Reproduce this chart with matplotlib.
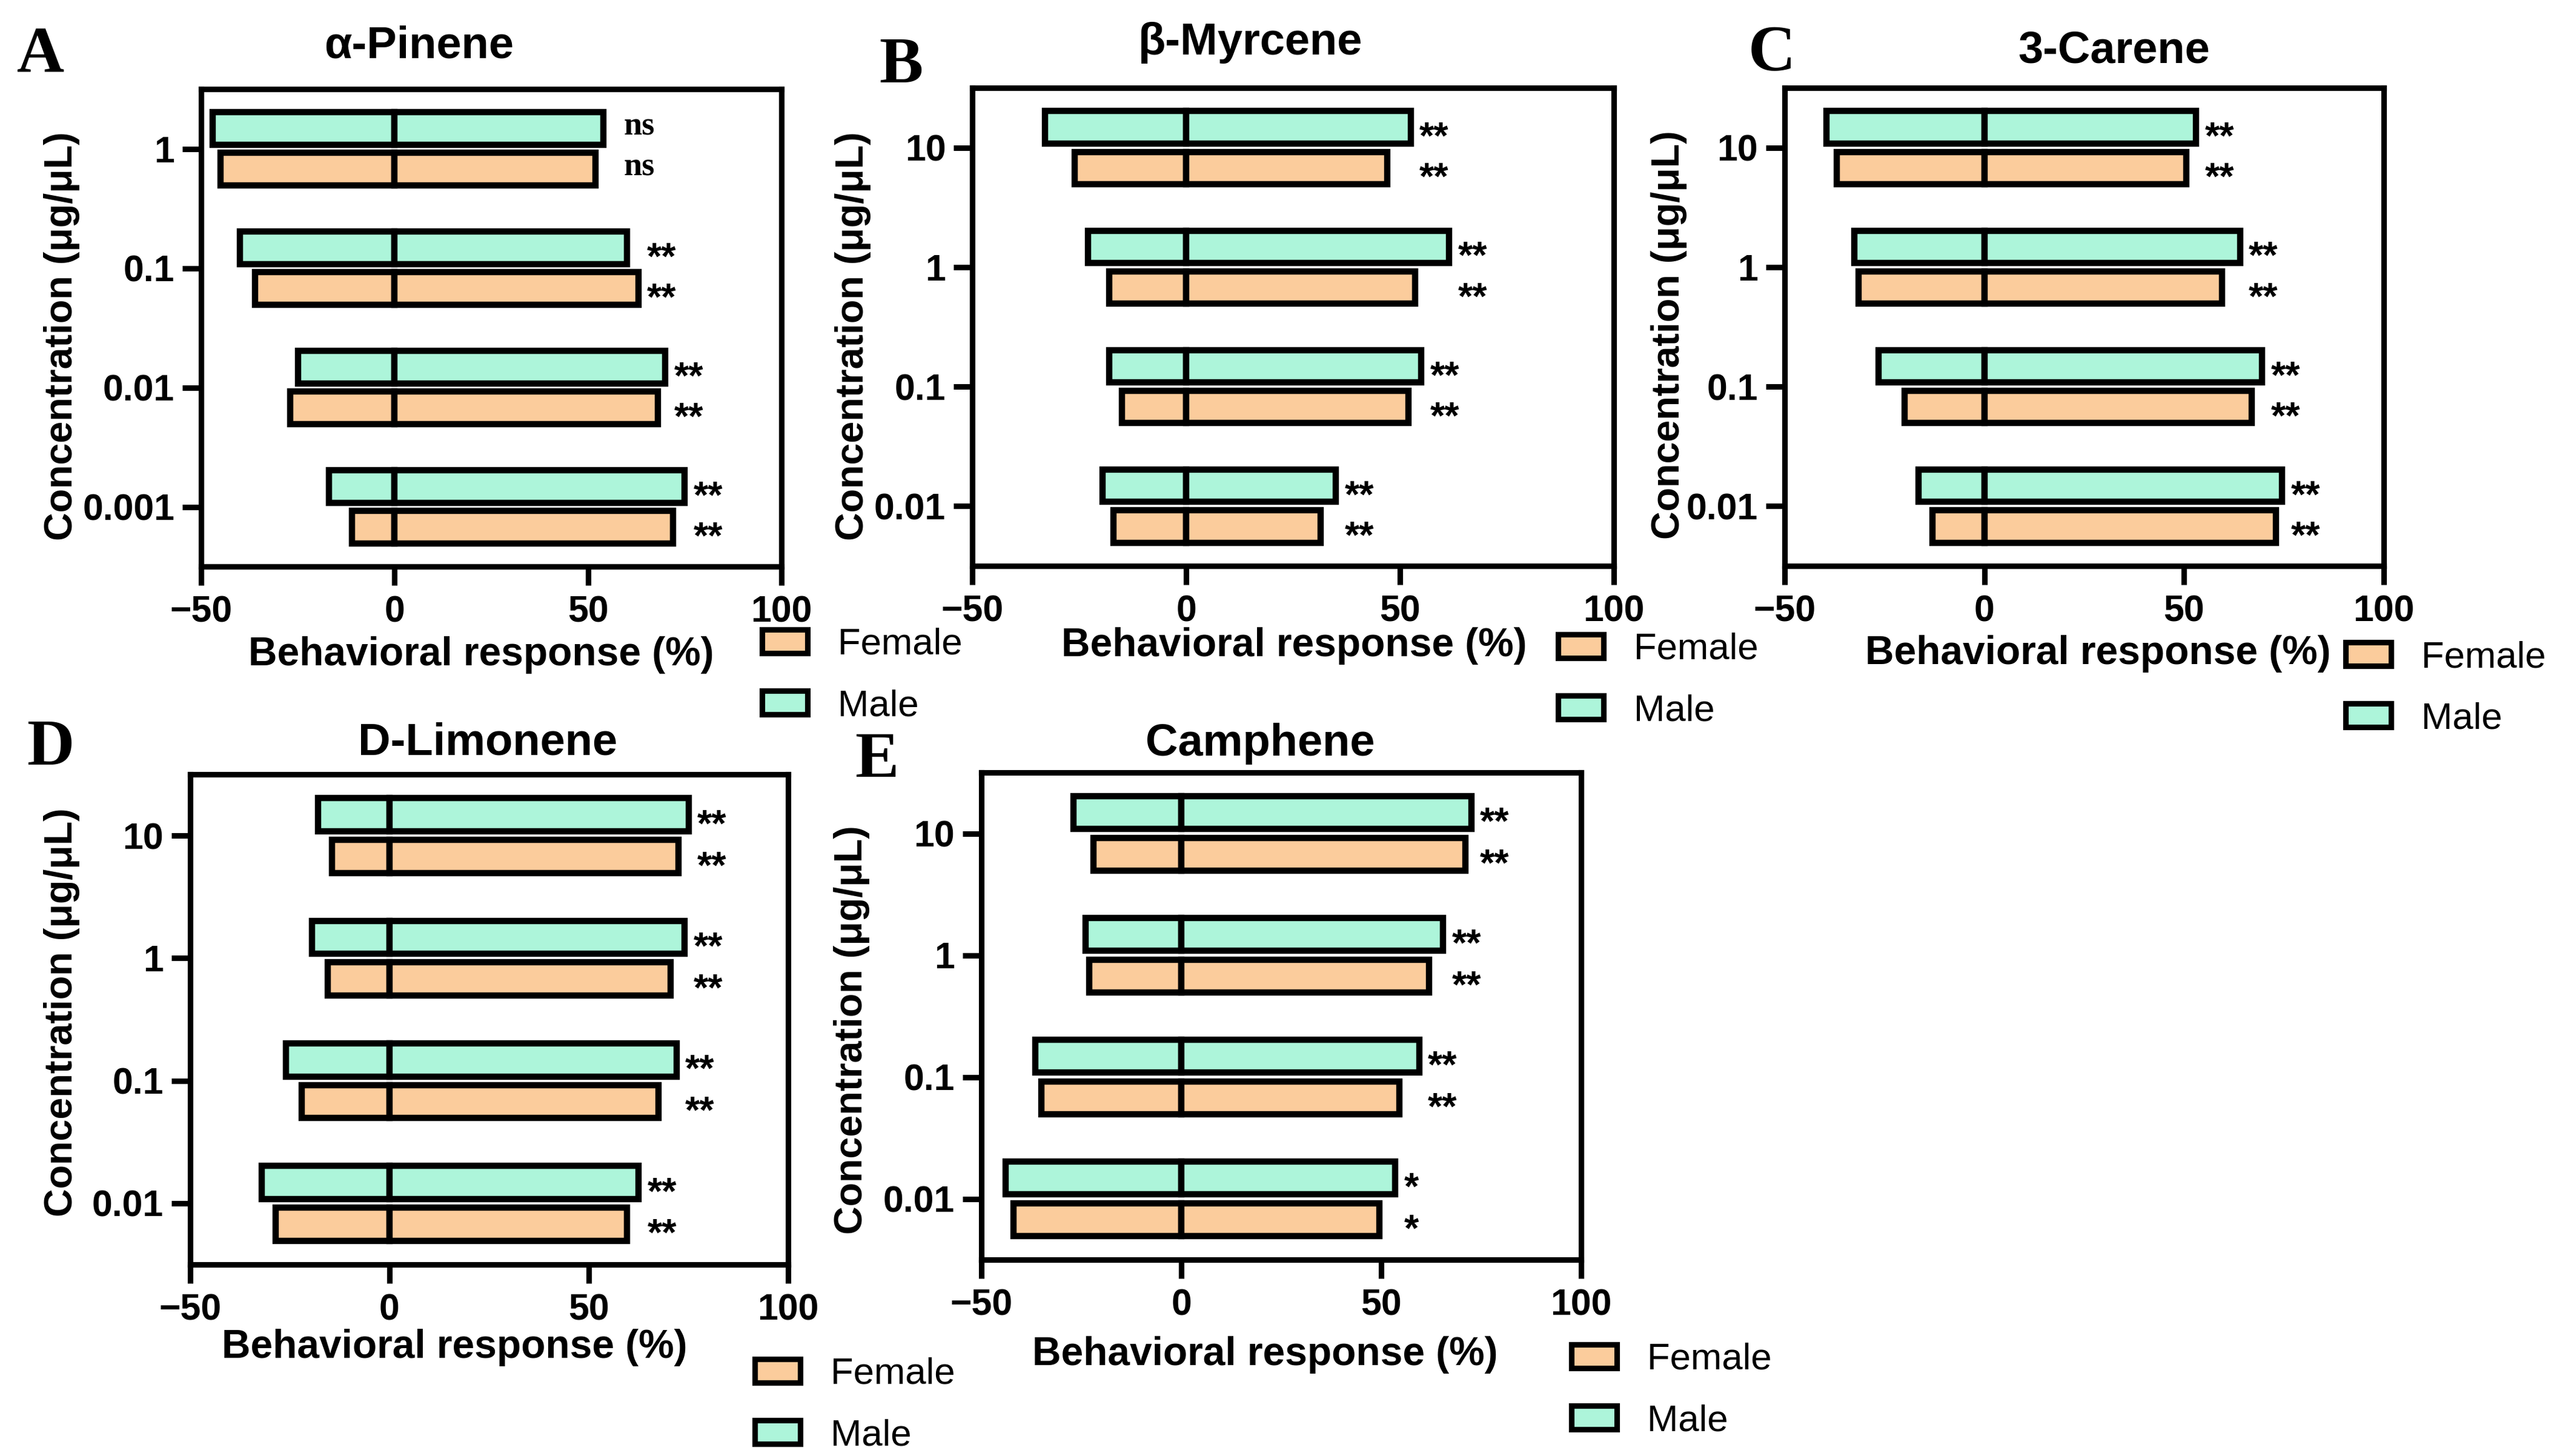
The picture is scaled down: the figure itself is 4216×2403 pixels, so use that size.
import numpy as np
import matplotlib
matplotlib.use('Agg')
import matplotlib.pyplot as plt
from matplotlib.patches import Patch

W, H = 4216, 2403
DPI = 300

plt.rcParams['font.family'] = ['Liberation Sans', 'DejaVu Sans']
plt.rcParams['font.weight'] = 'bold'

MALE_COLOR = '#ADF5DA'
FEMALE_COLOR = '#FBCC9C'

# ---- data (behavioral response %) ----
pinene_conc = ['1', '0.1', '0.01', '0.001']
pinene_male_neg = [-47, -40, -25, -17]
pinene_male_pos = [54, 60, 70, 75]
pinene_female_neg = [-45, -36, -27, -11]
pinene_female_pos = [52, 63, 68, 72]
pinene_sig = ['ns', '**', '**', '**']

myrcene_conc = ['10', '1', '0.1', '0.01']
myrcene_male_neg = [-33, -23, -18, -19.5]
myrcene_male_pos = [52.5, 61.5, 55, 35]
myrcene_female_neg = [-26, -18, -15, -17]
myrcene_female_pos = [47, 53.5, 52, 31.5]
myrcene_sig = ['**', '**', '**', '**']

carene_conc = ['10', '1', '0.1', '0.01']
carene_male_neg = [-39.5, -32.5, -26.5, -16.5]
carene_male_pos = [53, 64, 69.5, 74.5]
carene_female_neg = [-37, -31.5, -20, -13]
carene_female_pos = [50.5, 59.5, 67, 73]
carene_sig = ['**', '**', '**', '**']

limonene_conc = ['10', '1', '0.1', '0.01']
limonene_male_neg = [-18, -19.5, -26, -32]
limonene_male_pos = [75, 74, 72, 62.5]
limonene_female_neg = [-14.5, -15.5, -22, -28.5]
limonene_female_pos = [72.5, 70.5, 67.5, 59.5]
limonene_sig = ['**', '**', '**', '**']

camphene_conc = ['10', '1', '0.1', '0.01']
camphene_male_neg = [-27, -24, -36.5, -44]
camphene_male_pos = [72.5, 65.5, 59.5, 53.5]
camphene_female_neg = [-22, -23, -35, -42]
camphene_female_pos = [71, 62, 54.5, 49.5]
camphene_sig = ['**', '**', '**', '*']

panels = [
    ('A', 'α-Pinene', pinene_conc, pinene_male_neg, pinene_male_pos,
     pinene_female_neg, pinene_female_pos, pinene_sig),
    ('B', 'β-Myrcene', myrcene_conc, myrcene_male_neg, myrcene_male_pos,
     myrcene_female_neg, myrcene_female_pos, myrcene_sig),
    ('C', '3-Carene', carene_conc, carene_male_neg, carene_male_pos,
     carene_female_neg, carene_female_pos, carene_sig),
    ('D', 'D-Limonene', limonene_conc, limonene_male_neg, limonene_male_pos,
     limonene_female_neg, limonene_female_pos, limonene_sig),
    ('E', 'Camphene', camphene_conc, camphene_male_neg, camphene_male_pos,
     camphene_female_neg, camphene_female_pos, camphene_sig),
]

# ---- layout in pixels of the output image ----
# axes box (left, top, right, bottom), letter (left, baseline), title (center, baseline),
# xlabel (center, baseline), ylabel (center x, center y), legend (left, top)
layout = {
    'A': dict(box=(332, 147, 1290, 935), letter=(28, 119), title=(692, 96),
              xlabel=(794, 1098), ylabel=(102, 555), legend=(1258, 1036)),
    'B': dict(box=(1605, 145, 2664, 934), letter=(1451, 136), title=(2064, 90),
              xlabel=(2136, 1083), ylabel=(1408, 555), legend=(2572, 1044)),
    'C': dict(box=(2946, 145, 3935, 934), letter=(2886, 116), title=(3490, 104),
              xlabel=(3463, 1096), ylabel=(2755, 553), legend=(3872, 1057)),
    'D': dict(box=(314, 1278, 1301, 2087), letter=(44, 1262), title=(805, 1246),
              xlabel=(750, 2241), ylabel=(102, 1671), legend=(1246, 2240)),
    'E': dict(box=(1620, 1275, 2610, 2079), letter=(1411, 1282), title=(2080, 1247),
              xlabel=(2088, 2253), ylabel=(1406, 1700), legend=(2594, 2216)),
}


def fx(x):
    return x / W


def fy(y):
    return 1 - y / H


def draw_panel(ax, conc, m_neg, m_pos, f_neg, f_pos, sig):
    y = np.arange(len(conc))
    h, off = 0.27, 0.17
    kw = dict(height=h, edgecolor='black', linewidth=2.5)
    ax.barh(y - off, m_neg, color=MALE_COLOR, **kw)
    ax.barh(y - off, m_pos, color=MALE_COLOR, **kw)
    ax.barh(y + off, f_neg, color=FEMALE_COLOR, **kw)
    ax.barh(y + off, f_pos, color=FEMALE_COLOR, **kw)

    for i, s in enumerate(sig):
        xr = max(m_pos[i], f_pos[i])
        for yy in (y[i] - off, y[i] + off):
            if s == 'ns':
                ax.annotate(s, (xr, yy), xytext=(8, -2.5), textcoords='offset points',
                            ha='left', va='baseline', fontsize=13,
                            family=['Liberation Serif', 'DejaVu Serif'], weight='bold')
            else:
                ax.annotate(s, (xr, yy), xytext=(3.5, -8.3), textcoords='offset points',
                            ha='left', va='baseline', fontsize=15, weight='bold')

    ax.set_xlim(-50, 100)
    ax.set_xticks([-50, 0, 50, 100])
    ax.set_ylim(len(conc) - 0.5, -0.5)
    ax.set_yticks(y)
    ax.set_yticklabels(conc)
    for sp in ax.spines.values():
        sp.set_linewidth(2.2)
    ax.tick_params(axis='both', length=7.5, width=2.2, labelsize=14.6)
    ax.tick_params(axis='y', pad=3)
    ax.tick_params(axis='x', pad=4)


fig = plt.figure(figsize=(W / DPI, H / DPI), dpi=DPI)

for letter, name, conc, m_neg, m_pos, f_neg, f_pos, sig in panels:
    L = layout[letter]
    x0, y0, x1, y1 = L['box']
    ax = fig.add_axes([fx(x0), fy(y1), (x1 - x0) / W, (y1 - y0) / H])
    draw_panel(ax, conc, m_neg, m_pos, f_neg, f_pos, sig)

    fig.text(fx(L['letter'][0]), fy(L['letter'][1]), letter, ha='left', va='baseline',
             fontsize=26, family=['Liberation Serif', 'DejaVu Serif'], weight='bold')
    fig.text(fx(L['title'][0]), fy(L['title'][1]), name, ha='center', va='baseline',
             fontsize=17.8, weight='bold')
    fig.text(fx(L['xlabel'][0]), fy(L['xlabel'][1]), 'Behavioral response (%)',
             ha='center', va='baseline', fontsize=15.8, weight='bold')
    fig.text(fx(L['ylabel'][0]), fy(L['ylabel'][1]), 'Concentration (μg/μL)',
             ha='center', va='center', rotation=90, fontsize=15.5, weight='bold')

    handles = [Patch(facecolor=FEMALE_COLOR, edgecolor='black', linewidth=2.2),
               Patch(facecolor=MALE_COLOR, edgecolor='black', linewidth=2.2)]
    ax.legend(handles, ['Female', 'Male'], loc='upper left',
              bbox_to_anchor=(fx(L['legend'][0]), fy(L['legend'][1])),
              bbox_transform=fig.transFigure, frameon=False, borderpad=0,
              borderaxespad=0, handlelength=1.22, handleheight=0.6,
              handletextpad=0.8, labelspacing=0.72,
              prop={'size': 14.8, 'weight': 'normal'})

fig.savefig('out.png', dpi=DPI)
